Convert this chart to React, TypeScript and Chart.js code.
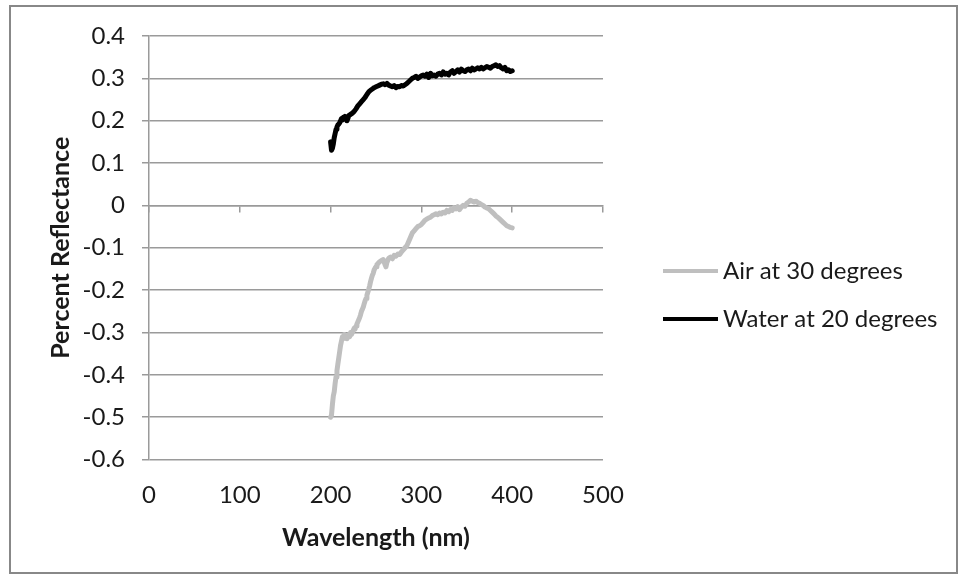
import React, { useEffect, useRef } from "react";
import { Chart, registerables } from "chart.js";

Chart.register(...registerables);

const seriesLabels = ["Air at 30 degrees", "Water at 20 degrees"];
const seriesColors = ["#bfbfbf", "#000000"];

const airWavelengths = [
  200, 201, 202, 203, 204, 205, 206, 207, 208, 209, 210, 211, 212, 213, 214, 215, 216, 217, 218, 219,
  220, 221, 222, 223, 224, 225, 226, 227, 228, 229, 230, 231, 232, 233, 234, 235, 236, 237, 238, 239,
  240, 241, 242, 243, 244, 245, 246, 247, 248, 249, 250, 251, 252, 253, 254, 256, 258, 260, 261, 262,
  264, 266, 268, 270, 272, 274, 276, 278, 280, 282, 284, 286, 288, 290, 292, 294, 296, 298, 300, 302,
  304, 306, 308, 310, 312, 314, 316, 318, 320, 322, 324, 326, 328, 330, 332, 334, 336, 338, 340, 342,
  344, 346, 348, 350, 352, 354, 356, 358, 360, 362, 364, 366, 368, 370, 372, 374, 376, 378, 380, 382,
  384, 386, 388, 390, 392, 394, 396, 398, 400,
];
const airValues = [
  -0.5, -0.495, -0.47, -0.45, -0.44, -0.42, -0.405, -0.39, -0.375, -0.36, -0.345, -0.33, -0.32, -0.31, -0.315, -0.305, -0.312, -0.308, -0.315, -0.31,
  -0.305, -0.31, -0.3, -0.305, -0.3, -0.295, -0.29, -0.292, -0.285, -0.28, -0.275, -0.27, -0.265, -0.258, -0.25, -0.245, -0.24, -0.232, -0.225, -0.22,
  -0.212, -0.205, -0.198, -0.19, -0.18, -0.172, -0.165, -0.16, -0.152, -0.148, -0.145, -0.14, -0.138, -0.135, -0.133, -0.13, -0.128, -0.14, -0.145, -0.135,
  -0.125, -0.122, -0.126, -0.118, -0.12, -0.115, -0.116, -0.11, -0.105, -0.1, -0.095, -0.085, -0.075, -0.065, -0.06, -0.055, -0.05, -0.048, -0.045, -0.04,
  -0.035, -0.032, -0.03, -0.028, -0.024, -0.022, -0.02, -0.022, -0.018, -0.02, -0.016, -0.018, -0.012, -0.015, -0.01, -0.012, -0.005, -0.008, -0.003, -0.01,
  -0.004, 0.0, -0.002, 0.005, 0.008, 0.012, 0.01, 0.008, 0.01, 0.007, 0.005, 0.002, 0.0, -0.004, -0.006, -0.008, -0.012, -0.016, -0.02, -0.025,
  -0.028, -0.032, -0.036, -0.04, -0.044, -0.048, -0.05, -0.052, -0.053,
];

const waterWavelengths = [
  200, 201, 202, 203, 204, 205, 206, 207, 208, 209, 210, 211, 212, 213, 214, 215, 216, 217, 218, 219,
  220, 222, 224, 226, 228, 230, 232, 234, 236, 238, 240, 242, 244, 246, 248, 250, 252, 254, 256, 258,
  260, 262, 264, 266, 268, 270, 272, 274, 276, 278, 280, 282, 284, 286, 288, 290, 292, 294, 296, 298,
  300, 302, 304, 306, 308, 310, 312, 314, 316, 318, 320, 322, 324, 326, 328, 330, 332, 334, 336, 338,
  340, 342, 344, 346, 348, 350, 352, 354, 356, 358, 360, 362, 364, 366, 368, 370, 372, 374, 376, 378,
  380, 382, 384, 386, 388, 390, 392, 394, 396, 398, 400,
];
const waterValues = [
  0.15, 0.13, 0.135, 0.145, 0.16, 0.17, 0.18, 0.185, 0.19, 0.192, 0.195, 0.2, 0.205, 0.202, 0.208, 0.205, 0.21, 0.206, 0.2, 0.205,
  0.212, 0.215, 0.218, 0.222, 0.228, 0.235, 0.24, 0.245, 0.25, 0.255, 0.262, 0.268, 0.272, 0.275, 0.278, 0.28, 0.282, 0.284, 0.286, 0.287,
  0.285, 0.288, 0.284, 0.282, 0.28, 0.283, 0.278, 0.281, 0.28, 0.283, 0.282, 0.285, 0.288, 0.292, 0.296, 0.3, 0.302, 0.305, 0.3, 0.303,
  0.306, 0.308, 0.305, 0.31, 0.302, 0.312, 0.306, 0.308, 0.305, 0.31, 0.312, 0.308, 0.315, 0.31, 0.312, 0.308, 0.315, 0.318, 0.312, 0.316,
  0.32, 0.315, 0.322, 0.318, 0.316, 0.32, 0.322, 0.318, 0.324, 0.32, 0.322, 0.325, 0.322, 0.326, 0.322, 0.325, 0.328, 0.326, 0.324, 0.328,
  0.33, 0.332, 0.328, 0.33, 0.325, 0.322, 0.326, 0.318, 0.32, 0.316, 0.318,
];

const xTitle = "Wavelength (nm)";
const yTitle = "Percent Reflectance";

const FONT = "Lato, 'Noto Sans', sans-serif";
const GRID = "#9a9a9a";
const TEXT = "#1a1a1a";

export default function App() {
  const ref = useRef<HTMLCanvasElement | null>(null);

  useEffect(() => {
    if (!ref.current) return;
    document.body.style.margin = "0";

    const framePlugin = {
      id: "frame",
      beforeDraw(chart: any) {
        const ctx = chart.ctx;
        ctx.save();
        ctx.fillStyle = "#ffffff";
        ctx.fillRect(0, 0, chart.width, chart.height);
        ctx.strokeStyle = "#888888";
        ctx.lineWidth = 2;
        ctx.strokeRect(10, 6, 947, 567);
        ctx.restore();
      },
    };

    const legendPlugin = {
      id: "customLegend",
      afterDraw(chart: any) {
        const ctx = chart.ctx;
        const ys = [271, 319];
        ctx.save();
        chart.data.datasets.forEach((ds: any, i: number) => {
          const y = ys[i];
          ctx.strokeStyle = ds.borderColor;
          ctx.lineWidth = 4;
          ctx.lineCap = "butt";
          ctx.beginPath();
          ctx.moveTo(663, y);
          ctx.lineTo(718, y);
          ctx.stroke();
          ctx.fillStyle = TEXT;
          ctx.font = `24px ${FONT}`;
          ctx.textBaseline = "middle";
          ctx.textAlign = "left";
          ctx.fillText(ds.label, 723, y);
        });
        ctx.restore();
      },
    };

    const chart = new Chart(ref.current, {
      type: "line",
      data: {
        datasets: [
          {
            label: seriesLabels[0],
            data: airWavelengths.map((x, i) => ({ x, y: airValues[i] })),
            borderColor: seriesColors[0],
            backgroundColor: seriesColors[0],
            borderWidth: 5,
            borderJoinStyle: "round",
            borderCapStyle: "round",
            pointRadius: 0,
            tension: 0,
            xAxisID: "x",
            yAxisID: "y",
          },
          {
            label: seriesLabels[1],
            data: waterWavelengths.map((x, i) => ({ x, y: waterValues[i] })),
            borderColor: seriesColors[1],
            backgroundColor: seriesColors[1],
            borderWidth: 5,
            borderJoinStyle: "round",
            borderCapStyle: "round",
            pointRadius: 0,
            tension: 0,
            xAxisID: "x",
            yAxisID: "y",
          },
        ],
      },
      options: {
        animation: false,
        responsive: false,
        maintainAspectRatio: false,
        layout: { padding: { left: 0, top: 36, right: 360, bottom: 0 } },
        plugins: {
          legend: { display: false },
          tooltip: { enabled: false },
        },
        scales: {
          x: {
            type: "linear",
            position: "bottom",
            min: 0,
            max: 500,
            ticks: {
              stepSize: 100,
              padding: 21,
              color: TEXT,
              font: { family: FONT, size: 24 },
              maxRotation: 0,
            },
            grid: { display: false, drawTicks: false },
            border: { display: false },
            title: {
              display: true,
              text: xTitle,
              color: TEXT,
              font: { family: FONT, size: 25, weight: "bold" },
              padding: { top: 0, bottom: 26 },
            },
            afterFit(scale: any) {
              scale.height = 119.5;
            },
          },
          x2: {
            type: "linear",
            axis: "x",
            position: { y: 0 },
            min: 0,
            max: 500,
            ticks: { stepSize: 100, display: false },
            grid: {
              drawOnChartArea: false,
              drawTicks: true,
              tickLength: 6,
              color: GRID,
              lineWidth: 1.5,
            },
            border: { display: true, color: GRID, width: 1.5 },
          },
          y: {
            type: "linear",
            position: "left",
            min: -0.6,
            max: 0.4,
            ticks: {
              stepSize: 0.1,
              padding: 17,
              color: TEXT,
              font: { family: FONT, size: 24 },
              callback: (v: any) => String(Number(Number(v).toFixed(1))),
            },
            grid: {
              color: GRID,
              lineWidth: 1.5,
              drawTicks: true,
              tickLength: 7,
            },
            border: { display: true, color: GRID, width: 1.5 },
            title: {
              display: true,
              text: yTitle,
              color: TEXT,
              font: { family: FONT, size: 25, weight: "bold" },
              padding: { top: 46, bottom: 0 },
            },
            afterFit(scale: any) {
              scale.width = 149;
            },
          },
        },
      },
      plugins: [framePlugin, legendPlugin],
    } as any);

    return () => chart.destroy();
  }, []);

  return (
    <div style={{ position: "fixed", left: 0, top: 0, width: 963, height: 579 }}>
      <canvas ref={ref} width={963} height={579} style={{ width: 963, height: 579, display: "block" }} />
    </div>
  );
}
